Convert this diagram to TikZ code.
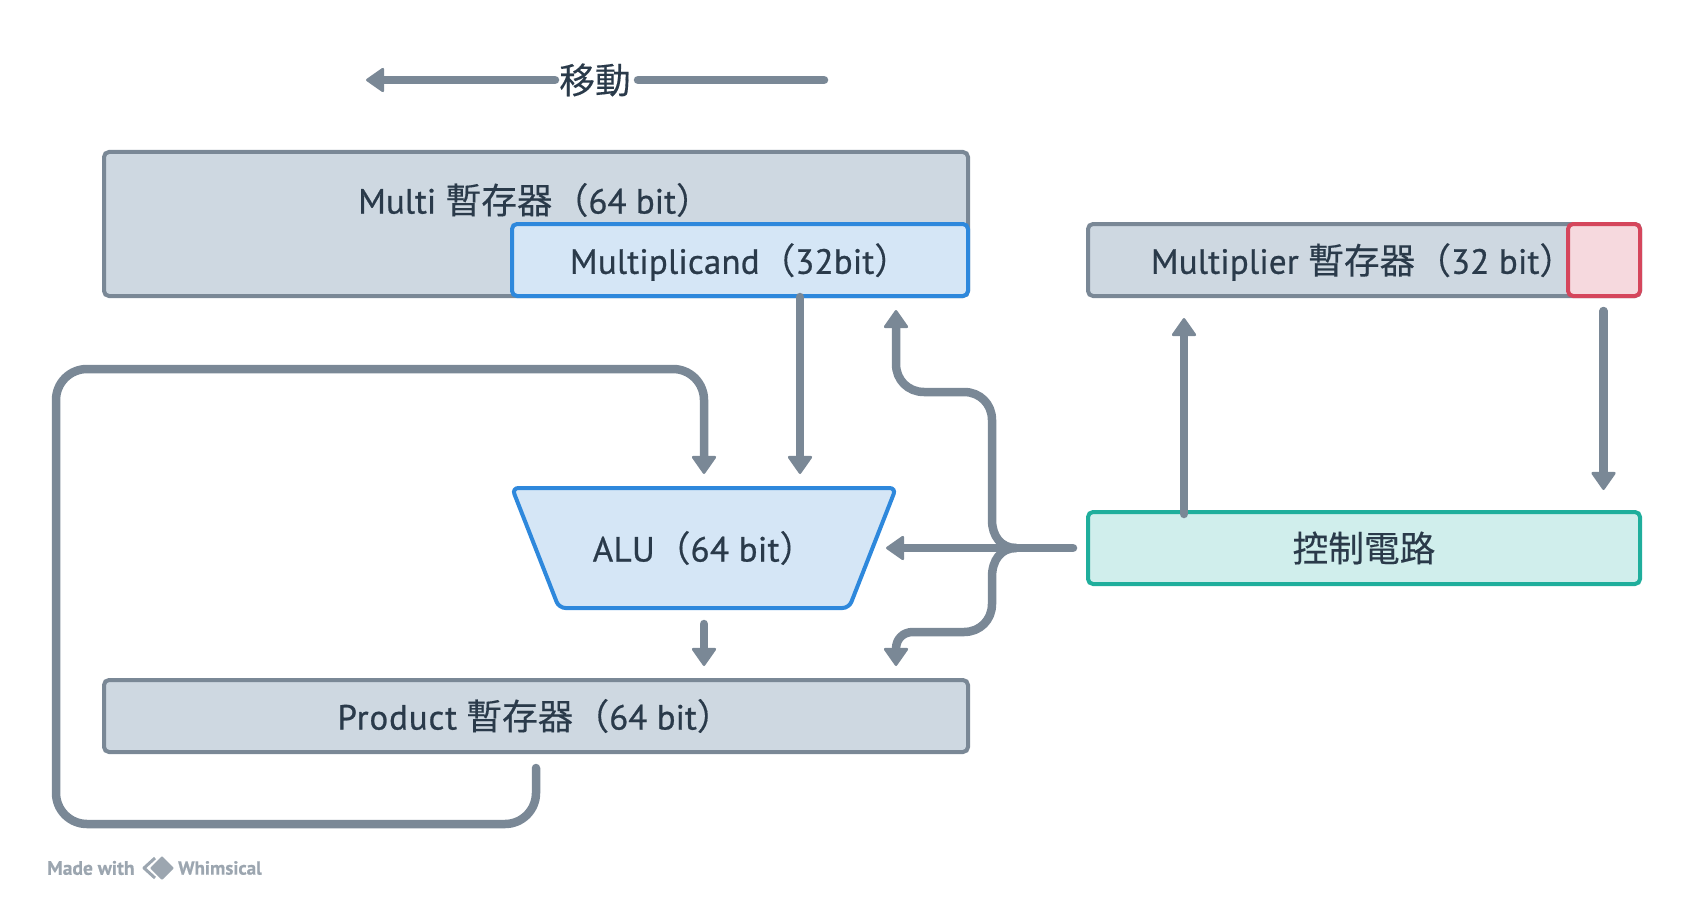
\documentclass[tikz,border=0pt]{standalone}
\usepackage{fontspec}
\setmainfont{PT Sans}[RawFeature={embolden=0.7}]
\newfontfamily\cjk{Noto Sans CJK TC}[Scale=1.02,RawFeature={embolden=0.3}]
\usetikzlibrary{arrows.meta}
\definecolor{stroke}{HTML}{7A8896}
\definecolor{regfill}{HTML}{CED8E1}
\definecolor{bluefill}{HTML}{D5E6F6}
\definecolor{blueline}{HTML}{2E88DC}
\definecolor{redfill}{HTML}{F6D9DE}
\definecolor{redline}{HTML}{D5465C}
\definecolor{tealfill}{HTML}{D0EEEC}
\definecolor{tealline}{HTML}{1FAE9C}
\definecolor{ink}{HTML}{2A3A4A}
\definecolor{wm}{HTML}{9CA6B0}
\tikzset{
  reg/.style={draw=stroke,fill=regfill,line width=4,rounded corners=5,minimum height=72,inner sep=0},
  bluebox/.style={reg,draw=blueline,fill=bluefill},
  redbox/.style={reg,draw=redline,fill=redfill},
  tealbox/.style={reg,draw=tealline,fill=tealfill},
  txt/.style={text=ink,font=\fontsize{35}{40}\selectfont,inner sep=0,anchor=center},
  conn/.style={draw=stroke,line width=8.5,line cap=round,line join=round},
  arr/.style={conn,-{Triangle[length=19pt,width=26pt,round,line width=2.5pt]}},
}
\begin{document}
\begin{tikzpicture}[x=1pt,y=-1pt]
\useasboundingbox (0,0) rectangle (1688,904);
% boxes
\node[reg,minimum width=864,minimum height=144] (multi) at (536,224) {};
\node[txt] (multitxt) at (535,200) {Multi {\cjk 暫存器（}64 bit{\cjk ）}};
\node[bluebox,minimum width=456] (cand) at (740,260) {};
\node[txt] (candtxt) at (740,262) {\addfontfeature{LetterSpace=0.5}Multiplicand{\cjk （}32bit{\cjk ）}};
\node[reg,minimum width=552] (mer) at (1364,260) {};
\node[txt] (mertxt) at (1363,262) {\addfontfeature{LetterSpace=0.5}Multiplier {\cjk 暫存器（}32 bit{\cjk ）}};
\node[redbox,minimum width=72] (bit) at (1604,260) {};
\node[tealbox,minimum width=552,minimum height=72] (ctrl) at (1364,548) {};
\node[txt] (ctrltxt) at (1364,548) {\cjk 控制電路};
\node[reg,minimum width=864,minimum height=72] (prod) at (536,716) {};
\node[txt] (prodtxt) at (535,716) {{\addfontfeature{LetterSpace=2.5}Product} {\cjk 暫存器（}64 bit{\cjk ）}};
\draw[draw=blueline,fill=bluefill,line width=4,rounded corners=6.5] (512,488) -- (896,488) -- (849,608) -- (559,608) -- cycle;
\node[txt] (alu) at (704,548) {\addfontfeature{LetterSpace=1}ALU{\cjk （}64 bit{\cjk ）}};
% move label
\node[txt] (move) at (595,80) {\cjk 移動};
\coordinate (moveL) at (366,80);
\coordinate (moveR) at (824,80);
\draw[arr] (555,80) -- (moveL);
\draw[conn] (638,80) -- (moveR);
% vertical connectors
\coordinate (candS) at (800,297);
\coordinate (aluA) at (800,474);
\coordinate (aluB) at (704,474);
\draw[arr] (candS) -- (aluA);
\coordinate (prodS) at (536,768);
\draw[arr,rounded corners=31] (prodS) -- (536,824) -- (56,824) -- (56,369) -- (704,369) -- (aluB);
\coordinate (aluO) at (704,624);
\coordinate (prodI) at (704,666);
\draw[arr] (aluO) -- (prodI);
% control
\coordinate (cS) at (1184,514);
\coordinate (merI) at (1184,318);
\draw[arr] (cS) -- (merI);
\coordinate (bitS) at (1603.5,311);
\coordinate (cI) at (1603.5,490);
\draw[arr] (bitS) -- (cI);
\coordinate (cOut) at (1073,548);
\coordinate (aluI) at (886,548);
\draw[arr] (cOut) -- (aluI);
\coordinate (junc) at (1016,548);
\coordinate (candI) at (896,310);
\coordinate (prodC) at (896,666);
\draw[arr] (junc) .. controls (1001,548) and (992,536) .. (992,520) -- (992,420) .. controls (992,404) and (980,392) .. (964,392) -- (924,392) .. controls (908,392) and (896,380) .. (896,364) -- (candI);
\draw[arr] (junc) .. controls (1001,548) and (992,560) .. (992,577) -- (992,604) .. controls (992,620) and (980,632) .. (964,632) -- (913,632) .. controls (903,632) and (896,639) .. (896,649) -- (prodC);
% watermark
\node[text=wm,font=\fontsize{19.5}{20}\selectfont\bfseries,inner sep=0,anchor=west] (made) at (47,868) {Made with};
\node[text=wm,font=\fontsize{19}{20}\selectfont\bfseries,inner sep=0,anchor=west] (whim) at (178,868) {Whimsical};
\draw[wm,line width=3,line join=round] (155,858) -- (144,868) -- (155,878);
\fill[wm,rounded corners=1] (162,856) -- (174,868) -- (162,880) -- (150,868) -- cycle;
\end{tikzpicture}
\end{document}
